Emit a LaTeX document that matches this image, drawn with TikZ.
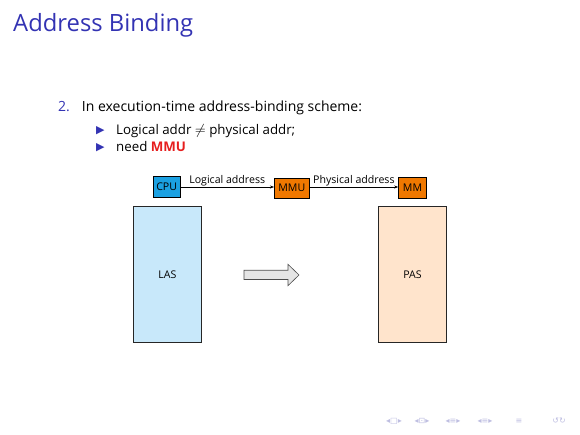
\documentclass[tikz,border=0pt]{standalone}
\usepackage{fontspec}
\setmainfont{Open Sans}
\newfontfamily\symfont{DejaVu Sans}
\usetikzlibrary{arrows.meta}
\definecolor{structblue}{RGB}{51,51,179}
\definecolor{cpublue}{RGB}{27,161,226}
\definecolor{mmuorange}{RGB}{240,120,0}
\definecolor{lasblue}{RGB}{200,232,250}
\definecolor{paspeach}{RGB}{255,228,204}
\definecolor{alertred}{RGB}{230,30,30}
\definecolor{navgray}{RGB}{190,190,225}
\tikzset{
  unitbox/.style={draw=black, line width=0.6pt, inner sep=2pt, minimum height=20pt, font=\fontsize{10.6}{12}\selectfont},
  spacebox/.style={draw=black!85, line width=0.8pt, minimum width=68pt, minimum height=136pt, font=\fontsize{10.6}{12}\selectfont},
  conn/.style={-{Stealth[length=4pt,width=3pt]}, line width=0.5pt},
  lbl/.style={font=\fontsize{10.6}{12}\selectfont, inner sep=1pt},
  navsym/.style={font=\symfont\fontsize{8}{10}\selectfont, text=navgray, inner sep=0pt},
  bulletsym/.style={anchor=base west, inner sep=0pt, text=structblue, font=\symfont\fontsize{11}{13}\selectfont}
}
\begin{document}
\begin{tikzpicture}[x=1pt,y=-1pt]
\useasboundingbox (0,0) rectangle (580,435);
% title
\node[anchor=base west, inner sep=0pt, text=structblue, font=\fontsize{23.8}{28}\selectfont] (title) at (13,32) {Address Binding};
% body
\node[anchor=base west, inner sep=0pt, text=structblue, font=\fontsize{14}{17}\selectfont] (num) at (58,111.3) {2.};
\node[anchor=base west, inner sep=0pt, font=\fontsize{14}{17}\selectfont] (l1) at (81.7,111.3) {In execution-time address-binding scheme:};
\node[bulletsym] (b1) at (96,133.3) {▶};
\node[anchor=base west, inner sep=0pt, font=\fontsize{13.3}{16}\selectfont] (l2) at (116,134.3) {Logical addr $\neq$ physical addr;};
\node[bulletsym] (b2) at (96,150.7) {▶};
\node[anchor=base west, inner sep=0pt, font=\fontsize{13.3}{16}\selectfont] (l3) at (116,151.7) {need \textcolor{alertred}{\bfseries MMU}};
% units
\node[unitbox, fill=cpublue, minimum width=27pt, minimum height=21pt] (cpu) at (166.7,187) {CPU};
\node[unitbox, fill=mmuorange, minimum width=35pt] (mmu) at (291.8,188) {MMU};
\node[unitbox, fill=mmuorange, minimum width=28pt, minimum height=21pt] (mm) at (412.5,187.8) {MM};
\draw[conn] (cpu.east |- 0,187) -- node[lbl, above] {Logical address} (mmu.west |- 0,187);
\draw[conn] (mmu.east |- 0,187) -- node[lbl, above] {Physical address} (mm.west |- 0,187);
% spaces
\node[spacebox, fill=lasblue] (las) at (167.5,274.7) {LAS};
\node[spacebox, fill=paspeach] (pas) at (412.5,274.7) {PAS};
% big hollow arrow
\draw[draw=black!70, fill=black!10, line width=0.6pt, line join=miter]
  (244,270.3) -- (288,270.3) -- (288,264.3) -- (299,275) -- (288,285.7) -- (288,279.5) -- (244,279.5) -- cycle;
% navigation symbols
\node[navsym] (n1) at (394,421) {◂□▸};
\node[navsym] (n2) at (422,421) {◂⊡▸};
\node[navsym] (n3) at (453,421) {◂≡▸};
\node[navsym] (n4) at (485,421) {◂≡▸};
\node[navsym] (n5) at (519,421) {≡};
\node[navsym] (n6) at (559,421) {↺↻};
\end{tikzpicture}
\end{document}
